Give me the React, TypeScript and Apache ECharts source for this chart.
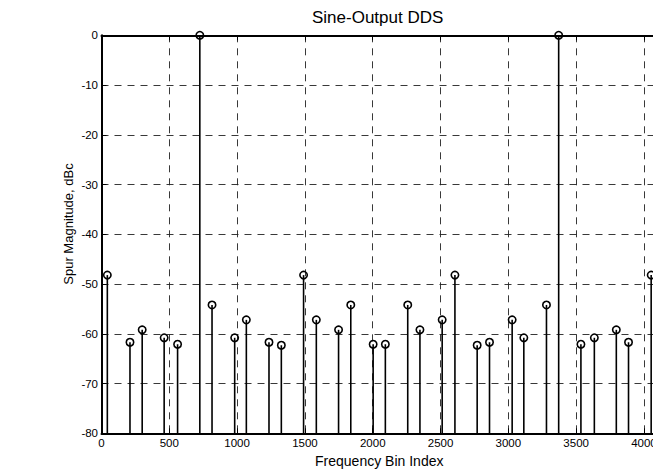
import React, { useEffect, useRef } from "react";
import * as echarts from "echarts";

// Frequency bin index of each spectral line
const binIndex = [
  43, 210, 300, 462, 561, 725, 815, 982, 1068, 1235, 1326, 1490, 1584, 1748, 1838, 2003,
  2093, 2258, 2348, 2512, 2606, 2770, 2861, 3028, 3114, 3281, 3371, 3535, 3634, 3796, 3886, 4053,
];
// Spur magnitude in dBc for each line
const magnitude = [
  -48.2, -61.7, -59.2, -60.8, -62.1, 0, -54.2, -60.8, -57.2, -61.7, -62.3, -48.2, -57.2, -59.2, -54.2, -62.1,
  -62.1, -54.2, -59.2, -57.2, -48.2, -62.3, -61.7, -57.2, -60.8, -54.2, 0, -62.1, -60.8, -59.2, -61.7, -48.2,
];
const xTickValues = [0, 500, 1000, 1500, 2000, 2500, 3000, 3500, 4000];
const yTickValues = [0, -10, -20, -30, -40, -50, -60, -70, -80];

const titleText = "Sine-Output DDS";
const xName = "Frequency Bin Index";
const yName = "Spur Magnitude, dBc";

const FONT = "'Liberation Sans', Arial, Helvetica, sans-serif";

export default function App() {
  const ref = useRef<HTMLDivElement>(null);

  useEffect(() => {
    if (!ref.current) return;
    const chart = echarts.init(ref.current, undefined, { renderer: "svg" });
    const data = binIndex.map((b, i) => [b, magnitude[i]]);
    const xMin = xTickValues[0];
    const xMax = 4096;
    const yMin = yTickValues[yTickValues.length - 1];
    const yMax = yTickValues[0];
    const dash = [7, 6];

    chart.setOption({
      animation: false,
      backgroundColor: "#fff",
      title: {
        text: titleText,
        left: 312,
        top: 9,
        padding: 0,
        textStyle: { fontFamily: FONT, fontSize: 17, fontWeight: "normal", color: "#000" },
      },
      graphic: [
        {
          type: "text",
          x: 68,
          y: 224,
          rotation: Math.PI / 2,
          style: {
            text: yName,
            textAlign: "center",
            textVerticalAlign: "middle",
            fontFamily: FONT,
            fontSize: 13,
            fill: "#000",
          },
        },
      ],
      grid: {
        left: 101.5,
        right: -4,
        top: 35.3,
        bottom: 37.7,
        outerBoundsMode: "none",
        containLabel: false,
      },
      xAxis: [
        {
          type: "value",
          min: xMin,
          max: xMax,
          interval: 500,
          position: "bottom",
          name: xName,
          nameLocation: "middle",
          nameGap: 21,
          nameTextStyle: { fontFamily: FONT, fontSize: 14, color: "#000" },
          axisLine: { show: true, onZero: false, lineStyle: { color: "#000", width: 2 } },
          axisTick: { show: true, inside: true, length: 5, lineStyle: { color: "#000", width: 1 } },
          axisLabel: {
            show: true,
            margin: 4,
            showMaxLabel: false,
            fontFamily: FONT,
            fontSize: 11.5,
            color: "#000",
            formatter: (v: number) => (xTickValues.includes(v) ? String(v) : ""),
          },
          splitLine: { show: true, lineStyle: { color: "#222", width: 0.9, type: dash } },
        },
        {
          type: "value",
          min: xMin,
          max: xMax,
          interval: 500,
          position: "top",
          axisLine: { show: true, onZero: false, lineStyle: { color: "#000", width: 2 } },
          axisTick: { show: true, inside: true, length: 5, lineStyle: { color: "#000", width: 1 } },
          axisLabel: { show: false },
          splitLine: { show: false },
        },
      ],
      yAxis: [
        {
          type: "value",
          min: yMin,
          max: yMax,
          interval: 10,
          axisLine: { show: true, onZero: false, lineStyle: { color: "#000", width: 2 } },
          axisTick: { show: true, inside: true, length: 5, lineStyle: { color: "#000", width: 1 } },
          axisLabel: {
            show: true,
            margin: 3.5,
            fontFamily: FONT,
            fontSize: 11.5,
            color: "#000",
          },
          splitLine: { show: true, lineStyle: { color: "#222", width: 0.9, type: dash } },
        },
      ],
      series: [
        {
          type: "custom",
          xAxisIndex: 0,
          yAxisIndex: 0,
          clip: false,
          data,
          renderItem: (_params: any, api: any) => {
            const x = api.value(0);
            const y = api.value(1);
            const tip = api.coord([x, y]);
            const base = api.coord([x, yMin]);
            return {
              type: "group",
              children: [
                {
                  type: "line",
                  shape: { x1: base[0], y1: base[1], x2: tip[0], y2: tip[1] },
                  style: { stroke: "#000", lineWidth: 1.6 },
                },
                {
                  type: "circle",
                  shape: { cx: tip[0], cy: tip[1], r: 3.7 },
                  style: { fill: "none", stroke: "#000", lineWidth: 1.6 },
                },
              ],
            };
          },
        },
      ],
    });

    return () => chart.dispose();
  }, []);

  return (
    <div
      ref={ref}
      style={{ position: "fixed", left: 0, top: 0, width: 653, height: 471, background: "#fff" }}
    />
  );
}
